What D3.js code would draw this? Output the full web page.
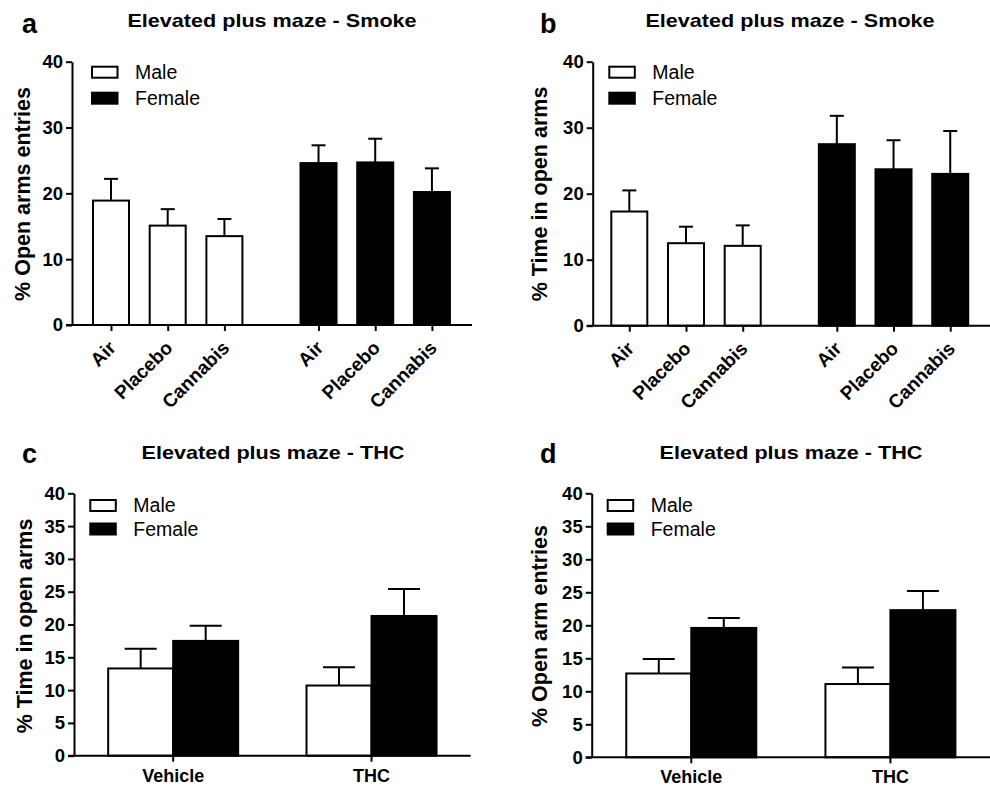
<!DOCTYPE html>
<html>
<head>
<meta charset="utf-8">
<script src="https://cdn.jsdelivr.net/npm/d3@7"></script>
<style>
  body { margin: 0; background: #fff; }
  svg { display: block; font-family: "Liberation Sans", Arial, sans-serif; }
</style>
</head>
<body>
<div id="chart"></div>
<script>
// datos (media y SEM)
const sexes = ["Male", "Female"];
const smokeGroups = ["Air", "Placebo", "Cannabis"];
const thcGroups = ["Vehicle", "THC"];
const smokeTicks = [0, 10, 20, 30, 40];
const thcTicks = [0, 5, 10, 15, 20, 25, 30, 35, 40];

const entriesSmokeMale = [18.9, 15.1, 13.5];
const entriesSmokeMaleSem = [3.3, 2.5, 2.6];
const entriesSmokeFemale = [24.6, 24.7, 20.2];
const entriesSmokeFemaleSem = [2.7, 3.6, 3.6];

const timeSmokeMale = [17.3, 12.5, 12.1];
const timeSmokeMaleSem = [3.2, 2.5, 3.1];
const timeSmokeFemale = [27.5, 23.7, 23.0];
const timeSmokeFemaleSem = [4.3, 4.4, 6.5];

const timeThcMale = [13.3, 10.7];
const timeThcMaleSem = [3.0, 2.8];
const timeThcFemale = [17.5, 21.3];
const timeThcFemaleSem = [2.3, 4.1];

const entriesThcMale = [12.7, 11.1];
const entriesThcMaleSem = [2.2, 2.5];
const entriesThcFemale = [19.6, 22.3];
const entriesThcFemaleSem = [1.5, 2.9];

const W = 990, H = 787;
const svg = d3.select("#chart").append("svg")
    .attr("width", W)
    .attr("height", H);

function rows(groups, male, maleSem, female, femaleSem) {
    let out = [];
    groups.forEach((g, i) => {
        out.push({ group: g, sex: "Male", i: i, value: male[i], sem: maleSem[i] });
        out.push({ group: g, sex: "Female", i: i, value: female[i], sem: femaleSem[i] });
    });
    return out;
}

function frame(p) {
    // letra, titulo, etiqueta eje y, leyenda
    svg.append("text")
        .attr("x", p.letterX)
        .attr("y", p.letterY)
        .style("font-size", "27px")
        .style("font-weight", "bold")
        .text(p.letter);

    svg.append("text")
        .attr("transform", `translate(${p.titleX},${p.titleY}) scale(1.2,1)`)
        .attr("text-anchor", "middle")
        .style("font-size", "18px")
        .style("font-weight", "bold")
        .text(p.title);

    svg.append("text")
        .attr("transform", `translate(${p.ylabX},${p.ylabY}) rotate(-90)`)
        .attr("text-anchor", "middle")
        .style("font-size", "21.5px")
        .style("font-weight", "bold")
        .text(p.ylabel);

    const leg = svg.append("g")
        .attr("transform", `translate(${p.legX},${p.legY})`);
    leg.selectAll("rect")
        .data(sexes)
        .enter()
        .append("rect")
        .attr("x", 1)
        .attr("y", (d, i) => i * p.legStep + 1)
        .attr("width", 25.5)
        .attr("height", 11)
        .attr("fill", d => d === "Male" ? "#fff" : "#000")
        .attr("stroke", "#000")
        .attr("stroke-width", 2);
    leg.selectAll("text")
        .data(sexes)
        .enter()
        .append("text")
        .attr("x", 44)
        .attr("y", (d, i) => i * p.legStep + 13)
        .style("font-size", "19.5px")
        .text(d => d);
}

function yAxis(p, y, ticks) {
    svg.append("g")
        .attr("transform", `translate(${p.ax},0)`)
        .call(d3.axisLeft(y).tickValues(ticks).tickSize(6).tickSizeOuter(0).tickPadding(3))
        .call(g => g.selectAll("text").style("font-size", "18.5px").style("font-weight", "bold").attr("fill", "#000"))
        .call(g => g.selectAll("line, path").attr("stroke", "#000").attr("stroke-width", 2));
}

function drawBars(g, data, xf, bw, y, capHalf) {
    g.selectAll("line.err")
        .data(data)
        .enter()
        .append("line")
        .attr("class", "err")
        .attr("x1", d => xf(d))
        .attr("x2", d => xf(d))
        .attr("y1", d => y(d.value))
        .attr("y2", d => y(d.value + d.sem))
        .attr("stroke", "#000")
        .attr("stroke-width", 2);
    g.selectAll("line.cap")
        .data(data)
        .enter()
        .append("line")
        .attr("class", "cap")
        .attr("x1", d => xf(d) - capHalf)
        .attr("x2", d => xf(d) + capHalf)
        .attr("y1", d => y(d.value + d.sem))
        .attr("y2", d => y(d.value + d.sem))
        .attr("stroke", "#000")
        .attr("stroke-width", 2);
    g.selectAll("rect.bar")
        .data(data)
        .enter()
        .append("rect")
        .attr("class", "bar")
        .attr("x", d => xf(d) - bw / 2)
        .attr("y", d => y(d.value))
        .attr("width", bw)
        .attr("height", d => y(0) - y(d.value))
        .attr("fill", d => d.sex === "Male" ? "#fff" : "#000")
        .attr("stroke", "#000")
        .attr("stroke-width", 2);
}

function smokePanel(p, male, maleSem, female, femaleSem) {
    frame(p);
    const y = d3.scaleLinear().domain([0, 40]).range([p.y0, p.y40]);
    // posicion: machos 0..2, hembras con hueco
    const gap = 3.66;
    const x = d3.scaleLinear().domain([0, 1]).range([p.firstTick, p.firstTick + 56.7]);
    const data = rows(smokeGroups, male, maleSem, female, femaleSem);
    data.forEach(d => d.pos = d.i + (d.sex === "Female" ? gap : 0));

    const g = svg.append("g");
    drawBars(g, data, d => x(d.pos), 36, y, 7);

    svg.append("g")
        .attr("transform", `translate(0,${p.y0})`)
        .call(d3.axisBottom(x).tickValues(data.map(d => d.pos)).tickSize(6).tickFormat(""))
        .call(g => g.select(".domain").attr("d", `M${p.ax - 6},0H${p.xEnd}`))
        .call(g => g.selectAll("line, path").attr("stroke", "#000").attr("stroke-width", 2));

    svg.selectAll(null)
        .data(data)
        .enter()
        .append("text")
        .attr("transform", d => `translate(${x(d.pos) + 6},${p.y0 + 24}) rotate(-45)`)
        .attr("text-anchor", "end")
        .style("font-size", "19px")
        .style("font-weight", "bold")
        .text(d => d.group);

    yAxis(p, y, smokeTicks);
}

function thcPanel(p, male, maleSem, female, femaleSem) {
    frame(p);
    const y = d3.scaleLinear().domain([0, 40]).range([p.y0, p.y40]);
    const x = d3.scaleBand().domain(thcGroups).range([p.ax, p.xEnd]);
    const xs = d3.scaleBand().domain(sexes).range([-65, 65]);
    const data = rows(thcGroups, male, maleSem, female, femaleSem);
    const xf = d => x(d.group) + x.bandwidth() / 2 + xs(d.sex) + xs.bandwidth() / 2;

    const g = svg.append("g");
    drawBars(g, data, xf, xs.bandwidth(), y, 16);

    svg.append("g")
        .attr("transform", `translate(0,${p.y0})`)
        .call(d3.axisBottom(x).tickSize(6).tickPadding(p.xPad))
        .call(g => g.select(".domain").attr("d", `M${p.ax - 6},0H${p.xEnd}`))
        .call(g => g.selectAll("line, path").attr("stroke", "#000").attr("stroke-width", 2))
        .call(g => g.selectAll("text").style("font-size", "18px").style("font-weight", "bold").attr("fill", "#000"));

    yAxis(p, y, thcTicks);
}

smokePanel({
    letter: "a", letterX: 22, letterY: 33,
    title: "Elevated plus maze - Smoke", titleX: 272, titleY: 27,
    ylabel: "% Open arms entries", ylabX: 30, ylabY: 194,
    legX: 91, legY: 65.7, legStep: 26,
    ax: 72, y0: 325, y40: 61.7, firstTick: 111, xEnd: 472
}, entriesSmokeMale, entriesSmokeMaleSem, entriesSmokeFemale, entriesSmokeFemaleSem);

smokePanel({
    letter: "b", letterX: 540, letterY: 33,
    title: "Elevated plus maze - Smoke", titleX: 790, titleY: 27,
    ylabel: "% Time in open arms", ylabX: 547, ylabY: 194,
    legX: 608.3, legY: 65.7, legStep: 26,
    ax: 592.7, y0: 325.7, y40: 61.7, firstTick: 629.3, xEnd: 990
}, timeSmokeMale, timeSmokeMaleSem, timeSmokeFemale, timeSmokeFemaleSem);

thcPanel({
    letter: "c", letterX: 22, letterY: 463,
    title: "Elevated plus maze - THC", titleX: 273, titleY: 459,
    ylabel: "% Time in open arms", ylabX: 32, ylabY: 626,
    legX: 89.3, legY: 499, legStep: 23.5,
    ax: 74, y0: 755.7, y40: 493.3, xEnd: 470.7, xPad: 8
}, timeThcMale, timeThcMaleSem, timeThcFemale, timeThcFemaleSem);

thcPanel({
    letter: "d", letterX: 540, letterY: 463,
    title: "Elevated plus maze - THC", titleX: 791, titleY: 459,
    ylabel: "% Open arm entries", ylabX: 547, ylabY: 626,
    legX: 606.7, legY: 499, legStep: 23.5,
    ax: 591.7, y0: 757.3, y40: 493.3, xEnd: 990, xPad: 6.5
}, entriesThcMale, entriesThcMaleSem, entriesThcFemale, entriesThcFemaleSem);
</script>
</body>
</html>
